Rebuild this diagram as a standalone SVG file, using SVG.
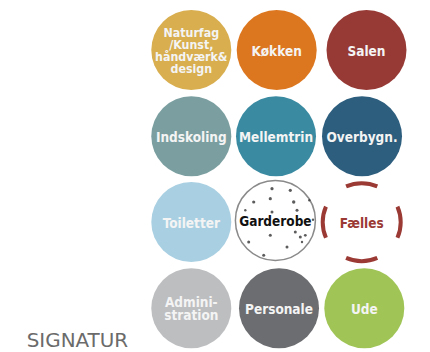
<svg xmlns="http://www.w3.org/2000/svg" width="430" height="352" viewBox="0 0 430 352">
<style>
.lbl{font-family:"DejaVu Sans Condensed","DejaVu Sans",sans-serif;font-weight:bold;font-size:13.5px;fill:#F4F4F4;text-anchor:middle}
.sm{font-size:12.3px}
.dot{fill:#333;opacity:0.8}
</style>
<rect width="430" height="352" fill="#FFFFFF"/>
<g id="connectors"/>
<g id="naturfag">
<circle cx="191.3" cy="50" r="40" fill="#D8AE4F"/>
<text class="lbl sm"><tspan x="191.3" y="36.5">Naturfag</tspan><tspan x="191.3" y="48.5">/Kunst,</tspan><tspan x="191.3" y="61">håndværk&amp;</tspan><tspan x="191.3" y="73.3">design</tspan></text>
</g>
<g id="kokken">
<circle cx="276.7" cy="50" r="40" fill="#DD771F"/>
<text class="lbl" x="276.7" y="56">Køkken</text>
</g>
<g id="salen">
<circle cx="366.5" cy="50" r="40" fill="#973A36"/>
<text class="lbl" x="366.5" y="56">Salen</text>
</g>
<g id="indskoling">
<circle cx="191.3" cy="136.2" r="40" fill="#7B9FA0"/>
<text class="lbl" x="191.3" y="142.3">Indskoling</text>
</g>
<g id="mellemtrin">
<circle cx="276" cy="136.2" r="40" fill="#3A8BA2"/>
<text class="lbl" x="276" y="142.3">Mellemtrin</text>
</g>
<g id="overbygn">
<circle cx="362" cy="136.2" r="40" fill="#2D5E7E"/>
<text class="lbl" x="362" y="142.3">Overbygn.</text>
</g>
<g id="toiletter">
<circle cx="191.3" cy="222" r="40" fill="#A9D0E2"/>
<text class="lbl" x="191.3" y="228">Toiletter</text>
</g>
<g id="garderobe">
<circle cx="275.4" cy="220.4" r="40" fill="#FFFFFF" stroke="#8A8A8A" stroke-width="1.5"/>
<circle class="dot" cx="272" cy="188.7" r="1.6"/>
<circle class="dot" cx="290.3" cy="190.3" r="1.6"/>
<circle class="dot" cx="253.7" cy="202" r="1.6"/>
<circle class="dot" cx="270.3" cy="198.7" r="1.6"/>
<circle class="dot" cx="293.7" cy="202" r="1.7"/>
<circle class="dot" cx="309.3" cy="200.3" r="1.2"/>
<circle class="dot" cx="245.3" cy="210.3" r="1.2"/>
<circle class="dot" cx="272" cy="212" r="1.5"/>
<circle class="dot" cx="297" cy="210.3" r="1.5"/>
<circle class="dot" cx="313" cy="219.7" r="1.2"/>
<circle class="dot" cx="270.3" cy="235.3" r="1.5"/>
<circle class="dot" cx="295.3" cy="232" r="1.5"/>
<circle class="dot" cx="300.3" cy="237" r="1.5"/>
<circle class="dot" cx="305.3" cy="235.3" r="1.4"/>
<circle class="dot" cx="248.7" cy="242" r="1.5"/>
<circle class="dot" cx="287" cy="247" r="1.5"/>
<circle class="dot" cx="302" cy="242" r="1.2"/>
<circle class="dot" cx="263.7" cy="255.3" r="1.5"/>
<text class="lbl" x="275.4" y="225.5" style="fill:#111111">Garderobe</text>
</g>
<g id="faelles">
<circle cx="361.7" cy="222.2" r="39" fill="none" stroke="#9B3A34" stroke-width="4" pathLength="244" stroke-dasharray="32 29" stroke-dashoffset="16"/>
<text class="lbl" x="361.7" y="227.5" style="fill:#9B3A34">Fælles</text>
</g>
<g id="administration">
<circle cx="191.3" cy="308.3" r="40" fill="#BDBEC0"/>
<text class="lbl"><tspan x="191.3" y="306.7">Admini-</tspan><tspan x="191.3" y="320">stration</tspan></text>
</g>
<g id="personale">
<circle cx="279" cy="308.3" r="40" fill="#6C6D70"/>
<text class="lbl" x="279" y="314.3">Personale</text>
</g>
<g id="ude">
<circle cx="364.3" cy="308.3" r="40" fill="#A0C556"/>
<text class="lbl" x="364.3" y="314.3">Ude</text>
</g>
<g id="signatur">
<text x="26.7" y="347.3" font-family="DejaVu Sans, sans-serif" font-size="19.5" fill="#6B6B6B" textLength="101.5" lengthAdjust="spacingAndGlyphs">SIGNATUR</text>
</g>
</svg>
